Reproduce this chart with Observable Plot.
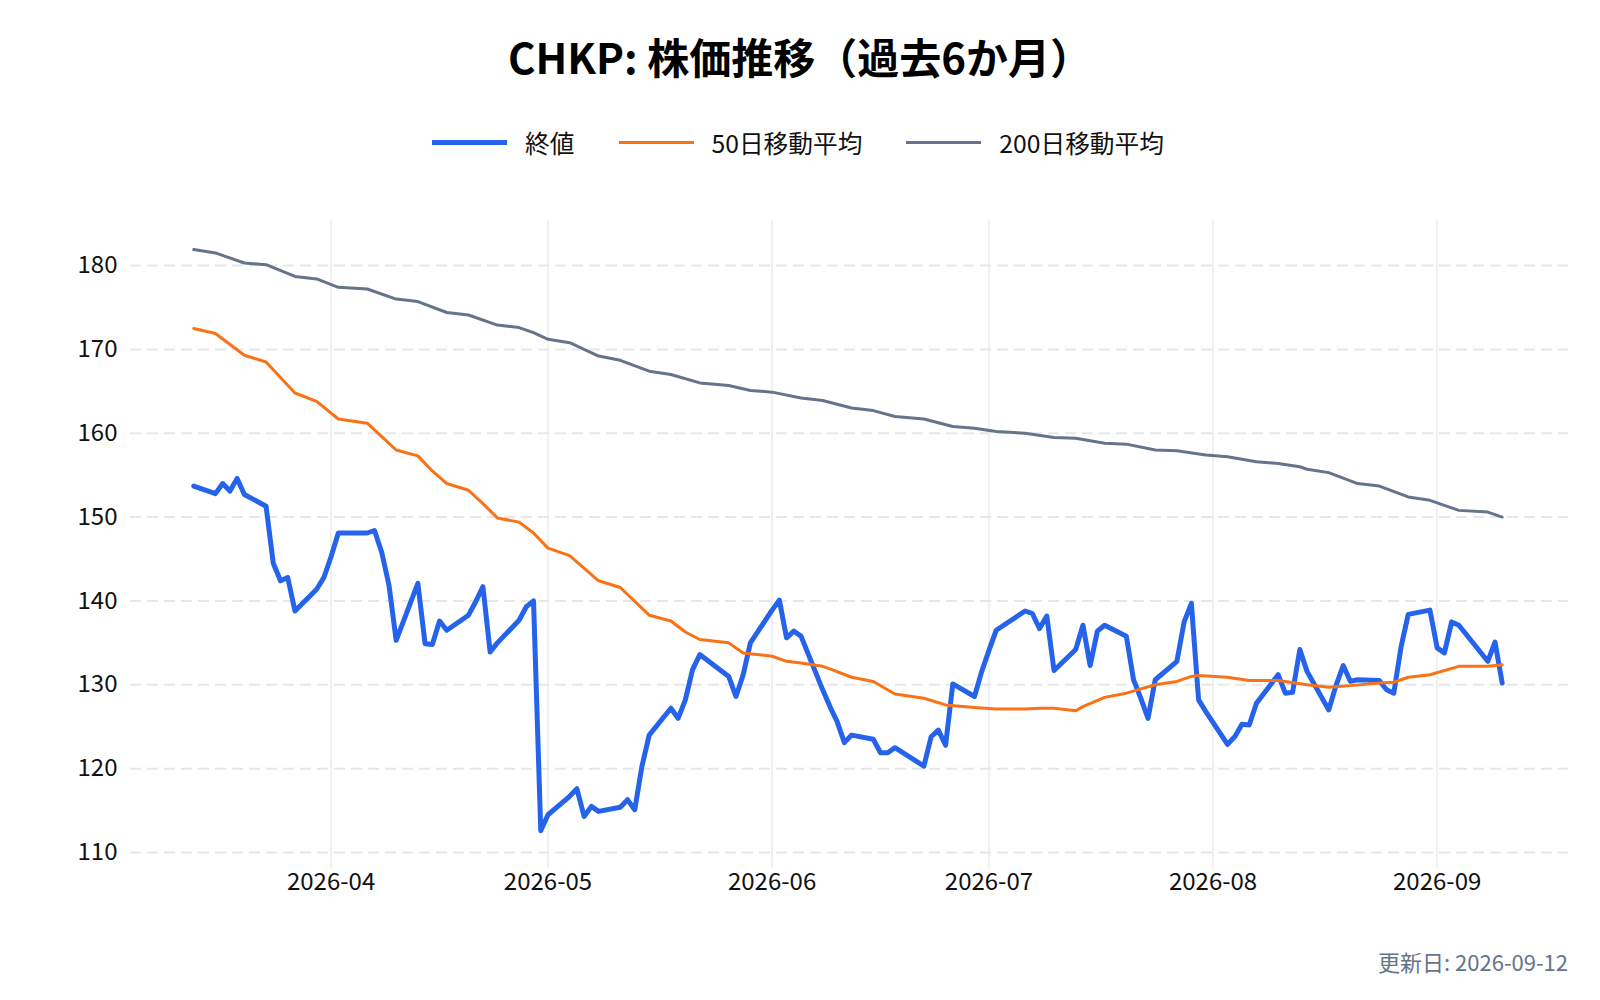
<!DOCTYPE html>
<html>
<head>
<meta charset="utf-8">
<script src="https://cdn.jsdelivr.net/npm/d3@7"></script>
<script src="https://cdn.jsdelivr.net/npm/@observablehq/plot@0.6"></script>
<style>
  html, body { margin: 0; padding: 0; background: #fff; }
  body { width: 1600px; height: 1000px; position: relative; overflow: hidden;
         font-family: "Noto Sans CJK JP", "Noto Sans", sans-serif; color: #111; }
  #title { position: absolute; left: 0; width: 1600px; top: 34px; text-align: center;
           font-size: 42px; line-height: 44px; font-weight: 700; color: #000; }
  #legend { position: absolute; left: -2px; width: 1600px; top: 126px; height: 32px;
            display: flex; justify-content: center; align-items: center; }
  .item { display: flex; align-items: center; margin: 0 22px; }
  .swatch { width: 75px; margin-right: 18px; }
  .label { font-size: 24.7px; line-height: 32px; color: #111; }
  #chart { position: absolute; left: 0; top: 190px; }
  #caption { position: absolute; right: 32px; top: 946px; font-size: 22px; line-height: 30px; color: #64748b; }
</style>
</head>
<body>
<div id="title">CHKP: 株価推移（過去6か月）</div>
<div id="legend"></div>
<div id="chart"></div>
<div id="caption">更新日: 2026-09-12</div>
<script>
// ---- data ----
const closeDates = [
  "2026-03-13","2026-03-16","2026-03-17","2026-03-18","2026-03-19","2026-03-20",
  "2026-03-23","2026-03-24","2026-03-25","2026-03-26","2026-03-27",
  "2026-03-30","2026-03-31","2026-04-01","2026-04-02",
  "2026-04-06","2026-04-07","2026-04-08","2026-04-09","2026-04-10",
  "2026-04-13","2026-04-14","2026-04-15","2026-04-16","2026-04-17",
  "2026-04-20","2026-04-21","2026-04-22","2026-04-23","2026-04-24",
  "2026-04-27","2026-04-28","2026-04-29","2026-04-30","2026-05-01",
  "2026-05-04","2026-05-05","2026-05-06","2026-05-07","2026-05-08",
  "2026-05-11","2026-05-12","2026-05-13","2026-05-14","2026-05-15",
  "2026-05-18","2026-05-19","2026-05-20","2026-05-21","2026-05-22",
  "2026-05-26","2026-05-27","2026-05-28","2026-05-29",
  "2026-06-01","2026-06-02","2026-06-03","2026-06-04","2026-06-05",
  "2026-06-08","2026-06-09","2026-06-10","2026-06-11","2026-06-12",
  "2026-06-15","2026-06-16","2026-06-17","2026-06-18",
  "2026-06-22","2026-06-23","2026-06-24","2026-06-25","2026-06-26",
  "2026-06-29","2026-06-30","2026-07-01","2026-07-02",
  "2026-07-06","2026-07-07","2026-07-08","2026-07-09","2026-07-10",
  "2026-07-13","2026-07-14","2026-07-15","2026-07-16","2026-07-17",
  "2026-07-20","2026-07-21","2026-07-22","2026-07-23","2026-07-24",
  "2026-07-27","2026-07-28","2026-07-29","2026-07-30","2026-07-31",
  "2026-08-03","2026-08-04","2026-08-05","2026-08-06","2026-08-07",
  "2026-08-10","2026-08-11","2026-08-12","2026-08-13","2026-08-14",
  "2026-08-17","2026-08-18","2026-08-19","2026-08-20","2026-08-21",
  "2026-08-24","2026-08-25","2026-08-26","2026-08-27","2026-08-28",
  "2026-08-31","2026-09-01","2026-09-02","2026-09-03","2026-09-04",
  "2026-09-08","2026-09-09","2026-09-10"
];
const closeValues = [
  153.7,152.8,154.0,153.1,154.6,152.7,
  151.3,144.5,142.4,142.8,138.8,
  141.4,142.8,145.3,148.1,
  148.1,148.4,145.8,141.9,135.3,
  142.1,134.9,134.8,137.6,136.5,
  138.3,139.9,141.7,133.9,135.0,
  137.7,139.3,140.0,112.6,114.5,
  116.7,117.6,114.3,115.5,114.9,
  115.4,116.3,115.1,120.3,124.0,
  127.2,126.0,128.2,131.8,133.6,
  131.0,128.6,131.2,135.0,
  138.9,140.1,135.6,136.4,135.8,
  129.4,127.4,125.6,123.1,124.0,
  123.5,121.9,121.9,122.5,
  120.3,123.8,124.6,122.8,130.1,
  128.6,131.6,134.1,136.5,
  138.8,138.5,136.7,138.2,131.7,
  134.2,137.1,132.3,136.4,137.1,
  135.8,130.6,128.4,126.0,130.6,
  132.8,137.5,139.7,128.2,126.8,
  122.9,123.8,125.3,125.2,127.8,
  131.2,129.0,129.1,134.2,131.6,
  127.0,129.9,132.3,130.4,130.6,
  130.5,129.4,129.0,134.5,138.4,
  138.9,134.4,133.8,137.5,137.1,
  132.8,135.1,130.2
];
const ma50Dates = [
  "2026-03-13","2026-03-16","2026-03-20","2026-03-23","2026-03-27","2026-03-30",
  "2026-04-02","2026-04-06","2026-04-08","2026-04-10","2026-04-13","2026-04-15",
  "2026-04-17","2026-04-20","2026-04-22","2026-04-24","2026-04-27","2026-04-29",
  "2026-05-01","2026-05-04","2026-05-08","2026-05-11","2026-05-15","2026-05-18",
  "2026-05-20","2026-05-22","2026-05-26","2026-05-28","2026-06-01","2026-06-03",
  "2026-06-05","2026-06-08","2026-06-09","2026-06-12","2026-06-15","2026-06-18",
  "2026-06-22","2026-06-25","2026-06-29","2026-07-02","2026-07-06","2026-07-08",
  "2026-07-10","2026-07-13","2026-07-14","2026-07-17","2026-07-20","2026-07-24",
  "2026-07-27","2026-07-29","2026-07-30","2026-08-03","2026-08-06","2026-08-10",
  "2026-08-11","2026-08-14","2026-08-17","2026-08-20","2026-08-24","2026-08-26",
  "2026-08-28","2026-08-31","2026-09-04","2026-09-08","2026-09-10"
];
const ma50Values = [
  172.5,171.9,169.3,168.5,164.8,163.8,
  161.7,161.2,159.6,158.0,157.3,155.5,
  154.0,153.2,151.6,149.9,149.4,148.1,
  146.3,145.4,142.4,141.6,138.3,137.6,
  136.3,135.4,135.0,133.8,133.4,132.8,
  132.6,132.2,131.9,130.9,130.4,128.9,
  128.4,127.6,127.3,127.1,127.1,127.2,
  127.2,126.9,127.4,128.5,129.0,130.0,
  130.4,131.0,131.1,130.9,130.5,130.5,
  130.4,130.0,129.7,129.9,130.2,130.3,
  130.9,131.2,132.2,132.2,132.4
];
const ma200Dates = [
  "2026-03-13","2026-03-16","2026-03-20","2026-03-23","2026-03-27","2026-03-30",
  "2026-04-02","2026-04-06","2026-04-10","2026-04-13","2026-04-17","2026-04-20",
  "2026-04-24","2026-04-27","2026-04-29","2026-05-01","2026-05-04","2026-05-08",
  "2026-05-11","2026-05-15","2026-05-18","2026-05-22","2026-05-26","2026-05-29",
  "2026-06-01","2026-06-05","2026-06-08","2026-06-12","2026-06-15","2026-06-18",
  "2026-06-22","2026-06-26","2026-06-29","2026-07-02","2026-07-06","2026-07-10",
  "2026-07-13","2026-07-17","2026-07-20","2026-07-24","2026-07-27","2026-07-31",
  "2026-08-03","2026-08-07","2026-08-10","2026-08-13","2026-08-14","2026-08-17",
  "2026-08-21","2026-08-24","2026-08-28","2026-08-31","2026-09-04","2026-09-08",
  "2026-09-10"
];
const ma200Values = [
  181.9,181.5,180.3,180.1,178.7,178.4,
  177.4,177.2,176.0,175.7,174.4,174.1,
  172.9,172.6,172.0,171.2,170.8,169.2,
  168.7,167.4,167.0,166.0,165.7,165.1,
  164.9,164.2,163.9,163.0,162.7,162.0,
  161.7,160.8,160.6,160.2,160.0,159.5,
  159.4,158.8,158.7,158.0,157.9,157.4,
  157.2,156.6,156.4,156.0,155.7,155.3,
  154.0,153.7,152.4,152.0,150.8,150.6,
  150.0
];
const yTicks = [110, 120, 130, 140, 150, 160, 170, 180];
const xTickLabels = ["2026-04", "2026-05", "2026-06", "2026-07", "2026-08", "2026-09"];
const seriesNames = ["終値", "50日移動平均", "200日移動平均"];
const seriesColors = ["#2563eb", "#f97316", "#64748b"];
const seriesWidths = [5, 3, 3];

// ---- tables ----
const closeData = closeDates.map((d, i) => ({date: new Date(d), value: closeValues[i]}));
const ma50Data = ma50Dates.map((d, i) => ({date: new Date(d), value: ma50Values[i]}));
const ma200Data = ma200Dates.map((d, i) => ({date: new Date(d), value: ma200Values[i]}));
const xTicks = xTickLabels.map(s => new Date(s + "-01"));

// ---- legend ----
const legend = document.getElementById("legend");
seriesNames.forEach((name, i) => {
  const item = document.createElement("div");
  item.className = "item";
  const sw = document.createElement("div");
  sw.className = "swatch";
  sw.style.height = seriesWidths[i] + "px";
  sw.style.background = seriesColors[i];
  const lb = document.createElement("span");
  lb.className = "label";
  lb.textContent = name;
  item.appendChild(sw);
  item.appendChild(lb);
  legend.appendChild(item);
});

// ---- chart ----
const chart = Plot.plot({
  width: 1600,
  height: 730,
  marginTop: 30,
  marginBottom: 52,
  marginLeft: 130,
  marginRight: 32,
  style: {fontFamily: '"Noto Sans CJK JP", "Noto Sans", sans-serif', fontSize: "24px", color: "#111", background: "#fff"},
  x: {type: "utc", domain: [new Date("2026-03-04T06:00:00Z"), new Date("2026-09-19T04:00:00Z")]},
  y: {domain: [108.09, 185.37]},
  marks: [
    Plot.ruleX(xTicks, {stroke: "#eef0f5", strokeWidth: 2}),
    Plot.ruleY(yTicks, {stroke: "#e5e7eb", strokeWidth: 2, strokeDasharray: "11,6"}),
    Plot.axisY(yTicks, {tickSize: 0, tickPadding: 13, fontSize: 24, label: null, fill: "#111"}),
    Plot.axisX(xTicks, {tickSize: 0, tickPadding: 4, fontSize: 24, label: null, fill: "#111",
                        tickFormat: d3.utcFormat("%Y-%m")}),
    Plot.line(closeData, {x: "date", y: "value", stroke: seriesColors[0], strokeWidth: seriesWidths[0], strokeLinejoin: "round"}),
    Plot.line(ma50Data, {x: "date", y: "value", stroke: seriesColors[1], strokeWidth: seriesWidths[1], strokeLinejoin: "round"}),
    Plot.line(ma200Data, {x: "date", y: "value", stroke: seriesColors[2], strokeWidth: seriesWidths[2], strokeLinejoin: "round"})
  ]
});
document.getElementById("chart").appendChild(chart);
</script>
</body>
</html>
